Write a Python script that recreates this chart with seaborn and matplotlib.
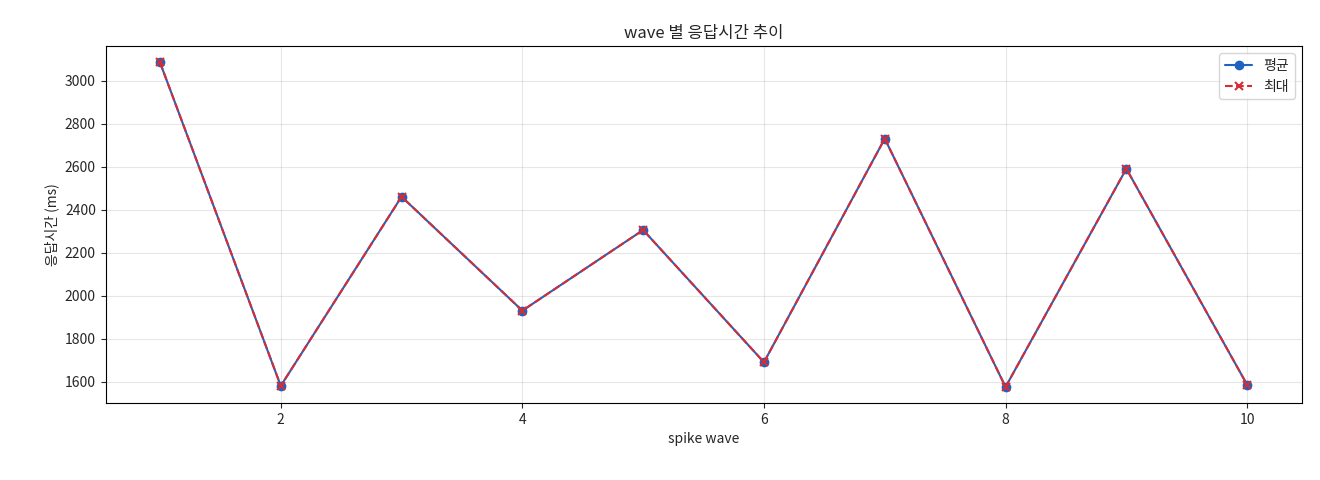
import matplotlib
matplotlib.use("Agg")
import matplotlib.pyplot as plt
import seaborn as sns
import pandas as pd

waves = [1, 2, 3, 4, 5, 6, 7, 8, 9, 10]
avg_ms = [3085, 1580, 2460, 1930, 2305, 1690, 2730, 1575, 2590, 1585]
max_ms = [3085, 1580, 2460, 1930, 2305, 1690, 2730, 1575, 2590, 1585]

sns.set_style("ticks")
plt.rcParams['font.family'] = ['Noto Sans CJK KR', 'DejaVu Sans']
plt.rcParams['axes.edgecolor'] = 'black'

df = pd.DataFrame({"wave": waves, "avg": avg_ms, "max": max_ms})
fig, ax = plt.subplots(figsize=(13.2, 4.8), dpi=100)
sns.lineplot(data=df, x="wave", y="avg", ax=ax, color="#1f63c0", marker="o",
             markersize=6, markeredgecolor="#1f63c0", markeredgewidth=1,
             label="평균", linewidth=1.5)
sns.lineplot(data=df, x="wave", y="max", ax=ax, color="#d62c36", marker="x",
             markersize=6, markeredgecolor="#d62c36", markeredgewidth=1.5,
             linestyle="--", label="최대", linewidth=1.5)
ax.set_title("wave 별 응답시간 추이")
ax.set_xlabel("spike wave")
ax.set_ylabel("응답시간 (ms)")
ax.grid(True, alpha=0.3, color="#b0b0b0")
ax.legend(loc="upper right")
fig.subplots_adjust(left=0.08, right=0.986, top=0.904, bottom=0.16)
fig.savefig("out.png", dpi=100)
